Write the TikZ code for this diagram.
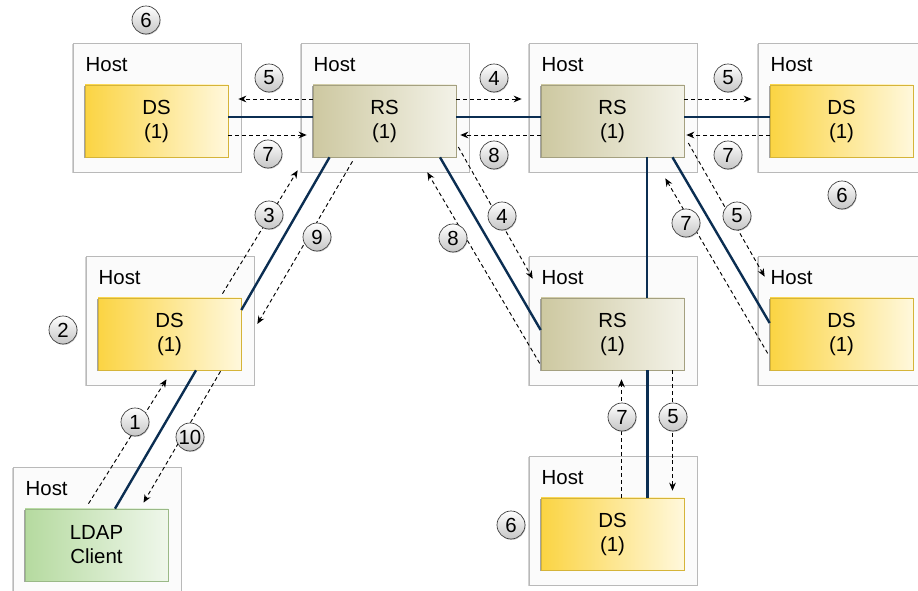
\documentclass[tikz,border=0pt]{standalone}
\usepackage{fontspec}
\setmainfont{Liberation Sans}
\usetikzlibrary{calc,arrows.meta,shadows}
\definecolor{linkblue}{HTML}{0B2E52}
\definecolor{dsdark}{HTML}{FBD443}
\definecolor{dslight}{HTML}{FFF8DC}
\definecolor{rsdark}{HTML}{CDC8A0}
\definecolor{rslight}{HTML}{F3F2E8}
\definecolor{ldapdark}{HTML}{B5DA9F}
\definecolor{ldaplight}{HTML}{EFF7EB}
\begin{document}
\begin{tikzpicture}[x=0.75pt,y=-0.75pt,
        every node/.style={font=\fontsize{15.3}{18}\selectfont},
        host/.style={draw=gray!55,fill=gray!3,minimum width=126pt,minimum height=96.75pt,anchor=north west,inner sep=0,
            drop shadow={shadow xshift=-0.6pt,shadow yshift=-0.6pt,fill=gray!70,opacity=.5}},
        inbox/.style={line width=.5pt,minimum width=107.25pt,minimum height=54pt,align=center,inner sep=0,
            drop shadow={shadow xshift=-0.7pt,shadow yshift=-0.9pt,opacity=.7}},
        ds/.style={inbox,draw=dsdark!85!black,left color=dsdark,right color=dslight},
        rs/.style={inbox,draw=rsdark!80!black,left color=rsdark,right color=rslight},
        ldap/.style={inbox,draw=ldapdark!85!black,left color=ldapdark,right color=ldaplight},
        link/.style={draw=linkblue,line width=1.8pt},
        msg/.style={dash pattern=on 3pt off 2.2pt,line width=.7pt,-{Stealth[length=6pt,width=5pt]}},
        num/.style={circle,draw=gray!45!black,line width=.5pt,minimum size=21pt,inner sep=0,top color=white,bottom color=gray!45,
            drop shadow={shadow xshift=0.5pt,shadow yshift=-0.7pt,opacity=.4}}]
        \useasboundingbox (0,0) rectangle (918,591);
        \foreach \n/\x/\y in {1/73/43,2/301/43,3/529/43,4/758/43,5/86/256,6/13/467,7/529/256,8/758/256,9/529/456}{
            \node[host] (h\n) at (\x,\y) {};
            \node[anchor=west] (ht\n) at ($(h\n.north west)+(8,22)$) {Host};
        }
        \node[ds] (ds1) at ($(h1.north west)+(83.5,78)$) {DS\\(1)};
        \node[rs] (rs1) at ($(h2.north west)+(83.5,78)$) {RS\\(1)};
        \node[rs] (rs2) at ($(h3.north west)+(83.5,78)$) {RS\\(1)};
        \node[ds] (ds4) at ($(h4.north west)+(83.5,78)$) {DS\\(1)};
        \node[ds] (ds5) at ($(h5.north west)+(83.5,78)$) {DS\\(1)};
        \node[ldap] (ldap) at ($(h6.north west)+(83.5,78)$) {LDAP\\Client};
        \node[rs] (rs3) at ($(h7.north west)+(83.5,78)$) {RS\\(1)};
        \node[ds] (ds8) at ($(h8.north west)+(83.5,78)$) {DS\\(1)};
        \node[ds] (ds9) at ($(h9.north west)+(83.5,78)$) {DS\\(1)};

        \draw[link] ($(ds1.east)+(0,-4)$) -- ($(rs1.west)+(0,-4)$);
        \draw[link] ($(rs1.east)+(0,-4)$) -- ($(rs2.west)+(0,-4)$);
        \draw[link] ($(rs2.east)+(0,-4)$) -- ($(ds4.west)+(0,-4)$);
        \draw[link] ($(rs1.south)+(-55,0)$) -- ($(ds5.east)+(0,-24)$);
        \draw[link] ($(ds5.south)+(26.5,0)$) -- ($(ldap.north)+(18.5,0)$);
        \draw[link] ($(rs1.south)+(55.5,0)$) -- ($(rs3.west)+(0,-4)$);
        \draw[link] ($(rs2.south)+(34.5,0)$) -- ($(rs3.north)+(34.5,0)$);
        \draw[link] ($(rs2.south)+(60,0)$) -- ($(ds8.west)+(0,-11)$);
        \draw[link] ($(rs3.south)+(35,0)$) -- ($(ds9.north)+(35,0)$);

        \draw[msg] ($(rs1.west)+(0,-22)$) -- ($(ds1.east)+(10,-22)$);
        \draw[msg] ($(ds1.east)+(0,14)$) -- ($(rs1.west)+(-6,14)$);
        \draw[msg] ($(rs1.east)+(0,-22)$) -- ($(rs2.west)+(-19,-22)$);
        \draw[msg] ($(rs2.west)+(0,14)$) -- ($(rs1.east)+(4,14)$);
        \draw[msg] ($(rs2.east)+(0,-22)$) -- ($(ds4.west)+(-18,-22)$);
        \draw[msg] ($(ds4.west)+(0,14)$) -- ($(rs2.east)+(2,14)$);
        \draw[msg] ($(ds5.north)+(53,-4)$) -- ($(rs1.south west)+(-15,13)$);
        \draw[msg] ($(rs1.south)+(-32,4)$) -- ($(ds5.east)+(16,-10)$);
        \draw[msg] ($(ldap.north)+(-8,-5)$) -- ($(ds5.south)+(-3,9)$);
        \draw[msg] ($(ds5.south)+(51,1)$) -- ($(ldap.north)+(47,-6)$);
        \draw[msg] ($(rs1.east)+(2,26)$) -- ($(rs3.north west)+(-8,-19)$);
        \draw[msg] ($(rs3.south west)+(-1,-7)$) -- ($(rs1.south east)+(-29,15)$);
        \draw[msg] ($(rs2.east)+(4,22)$) -- ($(ds8.north west)+(-5,-21)$);
        \draw[msg] ($(ds8.south west)+(-2,-17)$) -- ($(rs2.south east)+(-19,21)$);
        \draw[msg] ($(ds9.north)+(9,0)$) -- ($(rs3.south)+(9,9)$);
        \draw[msg] ($(rs3.south)+(60,0)$) -- ($(ds9.north)+(60,-7)$);

        \foreach \n/\x/\y/\t in {a/146/20/6,b/269/78/5,c/268/154/7,d/494/78/4,e/494/155/8,f/728/78/5,g/728/155/7,
            h/842/195/6,i/269/215/3,j/317/237/9,k/63/330/2,l/502/216/4,m/453/238/8,n/737/216/5,o/686/223/7,
            p/135/422/1,q/190/437/10,r/622/417/7,s/673/417/5,t/511/525/6}
            \node[num] (c\n) at (\x,\y) {\t};
    \end{tikzpicture}
\end{document}
